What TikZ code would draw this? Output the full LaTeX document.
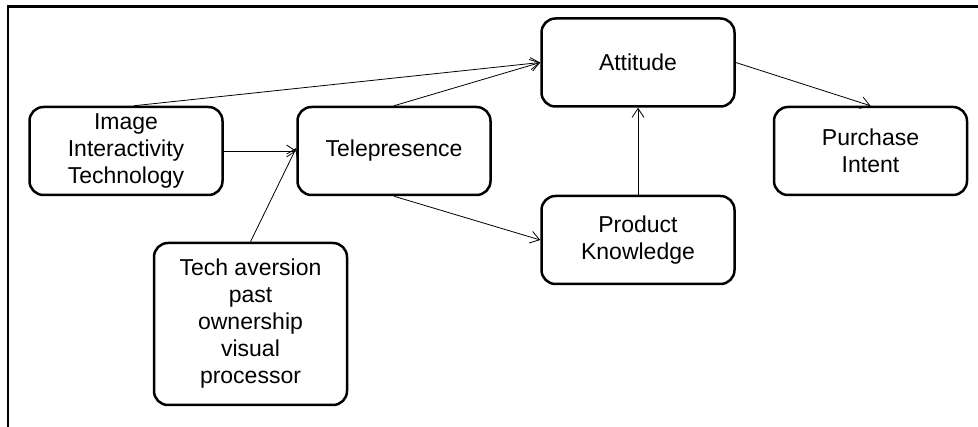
\documentclass[tikz,border=0pt]{standalone}
\usepackage{fontspec}
\setmainfont{Liberation Sans}
\usetikzlibrary{arrows.meta}
\begin{document}
\begin{tikzpicture}[x=1pt,y=-1pt,
  box/.style={draw, line width=2.5pt, rounded corners=14pt, minimum width=193pt, minimum height=88pt,
    align=center, inner sep=0pt, font=\fontsize{23}{27}\selectfont},
  conn/.style={line width=0.8pt, -{Straight Barb[length=9pt,width=12pt]}}]
\useasboundingbox (0,0) rectangle (978,427);
\draw[line width=2.3pt] (8,427) -- (8,6.5) -- (978,6.5);
\node[box] (iit) at (126,151) {Image\\Interactivity\\Technology};
\node[box] (tel) at (394,151) {Telepresence};
\node[box] (att) at (638,62.5) {Attitude};
\node[box] (pi)  at (870.5,151) {Purchase\\Intent};
\node[box] (pk)  at (638,240) {Product\\Knowledge};
\node[box, minimum height=162pt] (tech) at (250.5,324) {Tech aversion\\past\\ownership\\visual\\processor};
\draw[conn] ([xshift=8pt]iit.north) -- (att.west);
\draw[conn] (tel.north) -- (att.west);
\draw[conn] (iit.east) -- (tel.west);
\draw[conn] (tech.north) -- ([yshift=3pt]tel.west);
\draw[conn] (tel.south) -- (pk.west);
\draw[conn] (pk.north) -- (att.south);
\draw[conn] (att.east) -- (pi.north);
\end{tikzpicture}
\end{document}
